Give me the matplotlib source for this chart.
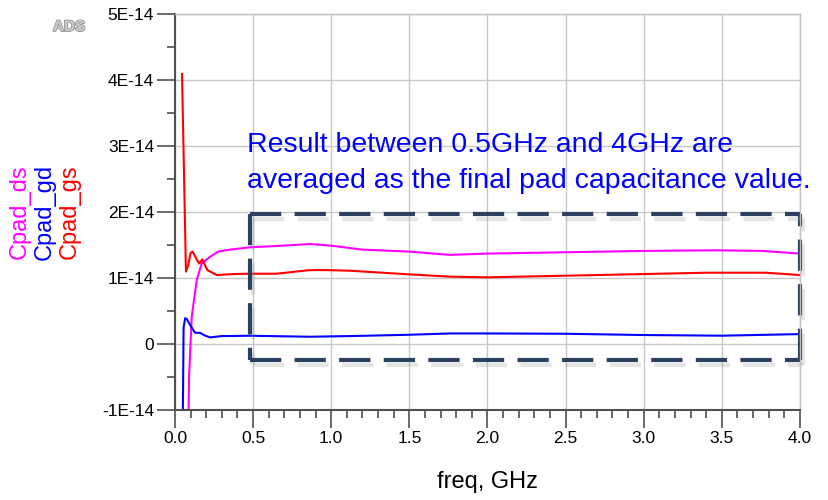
# ADS style pad capacitance plot
import numpy as np
import matplotlib
matplotlib.use('Agg')
import matplotlib.pyplot as plt
import matplotlib.patheffects as pe
from matplotlib.ticker import MultipleLocator, FuncFormatter

plt.rcParams['font.family'] = ['Liberation Sans', 'DejaVu Sans']

# data, capacitance in units of 1E-14 F
freq_ds = [0.078, 0.09, 0.107, 0.139, 0.171, 0.224, 0.277, 0.352, 0.48, 0.65, 0.864,
           1.0, 1.2, 1.5, 1.76, 2.0, 2.5, 3.0, 3.46, 3.76, 4.0]
cpad_ds = [-2.5, -0.5, 0.41, 0.97, 1.22, 1.32, 1.40, 1.43, 1.465, 1.485, 1.515,
           1.49, 1.43, 1.40, 1.35, 1.37, 1.39, 1.41, 1.42, 1.41, 1.37]

freq_gd = [0.045, 0.055, 0.065, 0.075, 0.096, 0.128, 0.16, 0.19, 0.224, 0.30, 0.48,
           0.864, 1.12, 1.5, 1.76, 2.0, 2.5, 3.0, 3.5, 4.0]
cpad_gd = [-2.5, 0.25, 0.39, 0.38, 0.29, 0.17, 0.17, 0.13, 0.10, 0.12, 0.125,
           0.11, 0.12, 0.14, 0.16, 0.16, 0.155, 0.136, 0.126, 0.15]

freq_gs = [0.045, 0.07, 0.085, 0.1, 0.113, 0.135, 0.154, 0.175, 0.207, 0.267, 0.373,
           0.48, 0.65, 0.864, 0.97, 1.12, 1.5, 1.76, 2.0, 2.5, 3.0, 3.4, 3.78, 4.0]
cpad_gs = [4.09, 1.095, 1.2, 1.38, 1.40, 1.30, 1.22, 1.28, 1.12, 1.045, 1.06,
           1.065, 1.065, 1.12, 1.12, 1.11, 1.055, 1.02, 1.01, 1.035, 1.06, 1.08, 1.08, 1.045]

# averaging window (box)
box_f = [0.48, 4.0]
box_c = [-0.24, 1.97]

E = 1e-14

fig = plt.figure(figsize=(8.29, 5), dpi=100)
ax = fig.add_axes([175/829, 90/500, 625/829, 396/500])

ax.plot(freq_ds, np.array(cpad_ds) * E, color='#ff00ff', lw=1.5)
ax.plot(freq_gd, np.array(cpad_gd) * E, color='#0000ff', lw=1.5)
ax.plot(freq_gs, np.array(cpad_gs) * E, color='#ff0000', lw=1.5)

ax.set_xlim(0, 4)
ax.set_ylim(-1 * E, 5 * E)
ax.xaxis.set_major_locator(MultipleLocator(0.5))
ax.xaxis.set_minor_locator(MultipleLocator(0.1))
ax.yaxis.set_major_locator(MultipleLocator(1 * E))
ax.yaxis.set_minor_locator(MultipleLocator(0.5 * E))
ax.xaxis.set_major_formatter(FuncFormatter(lambda v, p: f'{v:.1f}'))
ax.yaxis.set_major_formatter(FuncFormatter(
    lambda v, p: '0' if abs(v) < 1e-20 else f'{round(v / E):d}E-14'))

ax.grid(True, which='major', color='#c8c8c8', lw=1)
ax.tick_params(which='major', length=13, width=1.2, color='#505050', labelsize=12.5, pad=2)
ax.tick_params(which='minor', length=6, width=1.2, color='#505050')
for s in ['left', 'bottom']:
    ax.spines[s].set_color('#505050')
    ax.spines[s].set_linewidth(1.5)
for s in ['top', 'right']:
    ax.spines[s].set_color('#c0c0c0')
    ax.spines[s].set_linewidth(1)

ax.set_xlabel('freq, GHz', fontsize=17, labelpad=18)

# dashed box with shadow
f0, f1 = box_f
c0, c1 = box_c[0] * E, box_c[1] * E
sides = [([f0, f0], [c1, c0]), ([f0, f1], [c0, c0]),
         ([f1, f1], [c0, c1]), ([f0, f1], [c1, c1])]
for xs, ys in sides:
    ax.plot(xs, ys, color='#2c4060', lw=3, dashes=(7.5, 3.2), clip_on=False,
            solid_capstyle='butt',
            path_effects=[pe.SimpleLineShadow(offset=(2.5, -3.5), shadow_color='#999999', alpha=0.25),
                          pe.Normal()])

fig.text(247/829, 1 - 132/500,
         'Result between 0.5GHz and 4GHz are\naveraged as the final pad capacitance value.',
         color='#0000ff', fontsize=20.5, va='top', ha='left', linespacing=1.52)

# series names as y label
fig.text(20/829, 1 - 212/500, 'Cpad_ds', color='#ff00ff', fontsize=17, rotation=90,
         ha='center', va='center')
fig.text(45/829, 1 - 212/500, 'Cpad_gd', color='#0000ff', fontsize=17, rotation=90,
         ha='center', va='center')
fig.text(70/829, 1 - 212/500, 'Cpad_gs', color='#ff0000', fontsize=17, rotation=90,
         ha='center', va='center')

fig.text(69/829, 1 - 27/500, 'ADS', color='#c8c8c8', fontsize=11, fontweight='bold',
         ha='center', va='center',
         path_effects=[pe.withStroke(linewidth=1.2, foreground='#8a8a8a'), pe.Normal()])

fig.savefig('out.png', dpi=100)
